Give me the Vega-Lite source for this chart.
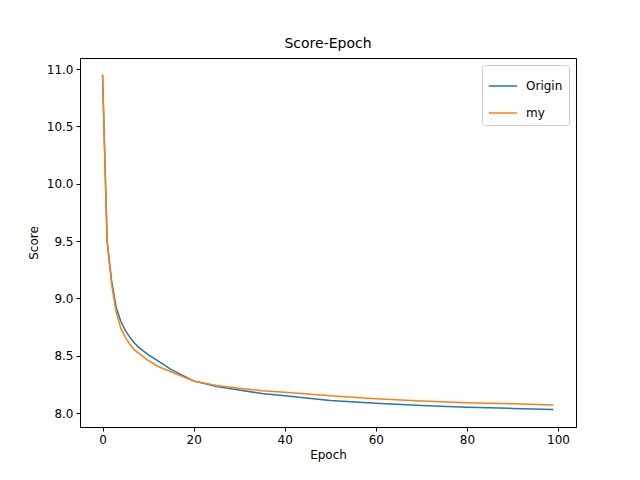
{
  "$schema": "https://vega.github.io/schema/vega-lite/v6.json",
  "autosize": "none",
  "padding": {"left": 80, "top": 58, "right": 64, "bottom": 53},
  "width": 496,
  "height": 369,
  "title": {"text": "Score-Epoch", "font": "DejaVu Sans", "fontSize": 14, "fontWeight": "normal", "offset": 7},
  "data": {
    "values": [
      {"epoch": 0, "score": 10.95, "series": "Origin"},
      {"epoch": 1, "score": 9.5, "series": "Origin"},
      {"epoch": 2, "score": 9.15, "series": "Origin"},
      {"epoch": 3, "score": 8.92, "series": "Origin"},
      {"epoch": 4, "score": 8.8, "series": "Origin"},
      {"epoch": 5, "score": 8.72, "series": "Origin"},
      {"epoch": 6, "score": 8.66, "series": "Origin"},
      {"epoch": 7, "score": 8.61, "series": "Origin"},
      {"epoch": 8, "score": 8.57, "series": "Origin"},
      {"epoch": 9, "score": 8.54, "series": "Origin"},
      {"epoch": 10, "score": 8.51, "series": "Origin"},
      {"epoch": 12, "score": 8.46, "series": "Origin"},
      {"epoch": 15, "score": 8.38, "series": "Origin"},
      {"epoch": 20, "score": 8.28, "series": "Origin"},
      {"epoch": 25, "score": 8.23, "series": "Origin"},
      {"epoch": 30, "score": 8.2, "series": "Origin"},
      {"epoch": 35, "score": 8.17, "series": "Origin"},
      {"epoch": 40, "score": 8.15, "series": "Origin"},
      {"epoch": 50, "score": 8.11, "series": "Origin"},
      {"epoch": 60, "score": 8.085, "series": "Origin"},
      {"epoch": 70, "score": 8.065, "series": "Origin"},
      {"epoch": 80, "score": 8.05, "series": "Origin"},
      {"epoch": 90, "score": 8.04, "series": "Origin"},
      {"epoch": 99, "score": 8.03, "series": "Origin"},
      {"epoch": 0, "score": 10.95, "series": "my"},
      {"epoch": 1, "score": 9.5, "series": "my"},
      {"epoch": 2, "score": 9.12, "series": "my"},
      {"epoch": 3, "score": 8.88, "series": "my"},
      {"epoch": 4, "score": 8.74, "series": "my"},
      {"epoch": 5, "score": 8.66, "series": "my"},
      {"epoch": 6, "score": 8.6, "series": "my"},
      {"epoch": 7, "score": 8.55, "series": "my"},
      {"epoch": 8, "score": 8.52, "series": "my"},
      {"epoch": 9, "score": 8.49, "series": "my"},
      {"epoch": 10, "score": 8.46, "series": "my"},
      {"epoch": 12, "score": 8.41, "series": "my"},
      {"epoch": 15, "score": 8.36, "series": "my"},
      {"epoch": 20, "score": 8.28, "series": "my"},
      {"epoch": 25, "score": 8.24, "series": "my"},
      {"epoch": 30, "score": 8.215, "series": "my"},
      {"epoch": 35, "score": 8.195, "series": "my"},
      {"epoch": 40, "score": 8.18, "series": "my"},
      {"epoch": 50, "score": 8.15, "series": "my"},
      {"epoch": 60, "score": 8.125, "series": "my"},
      {"epoch": 70, "score": 8.105, "series": "my"},
      {"epoch": 80, "score": 8.09, "series": "my"},
      {"epoch": 90, "score": 8.08, "series": "my"},
      {"epoch": 99, "score": 8.07, "series": "my"}
    ]
  },
  "mark": {"type": "line", "strokeWidth": 1.5, "clip": true},
  "encoding": {
    "x": {"field": "epoch", "type": "quantitative", "title": "Epoch",
      "scale": {"domain": [-4.95, 103.95], "nice": false, "zero": false},
      "axis": {"values": [0, 20, 40, 60, 80, 100]}},
    "y": {"field": "score", "type": "quantitative", "title": "Score",
      "scale": {"domain": [7.878, 11.096], "nice": false, "zero": false},
      "axis": {"values": [8, 8.5, 9, 9.5, 10, 10.5, 11], "format": ".1f"}},
    "color": {"field": "series", "type": "nominal",
      "scale": {"domain": ["Origin", "my"], "range": ["#1f77b4", "#ff7f0e"]},
      "legend": {"title": null, "orient": "top-right", "offset": 7, "symbolType": "stroke", "symbolSize": 800, "symbolStrokeWidth": 1.5,
        "labelFontSize": 12, "labelFont": "DejaVu Sans", "labelOffset": 8, "strokeColor": "#cccccc", "fillColor": "white", "padding": 6, "cornerRadius": 3, "rowPadding": 6}}
  },
  "config": {
    "view": {"stroke": "black", "strokeWidth": 1},
    "axis": {"grid": false, "domain": false, "tickColor": "black", "tickSize": 4, "labelColor": "black",
      "labelFont": "DejaVu Sans", "labelFontSize": 12, "titleFont": "DejaVu Sans", "titleFontSize": 12, "titleFontWeight": "normal", "labelPadding": 3},
    "axisY": {"titlePadding": 6}
  }
}
